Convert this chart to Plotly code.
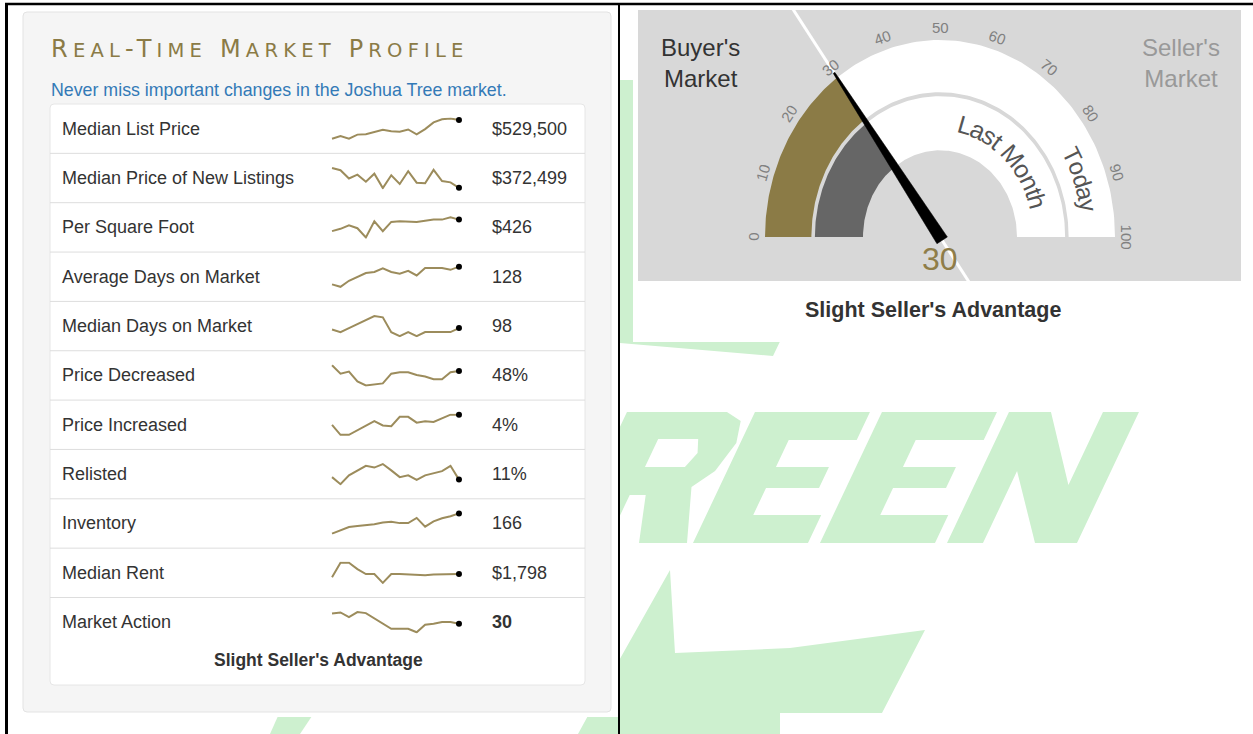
import numpy as np
import plotly.graph_objects as go

W, H = 1253, 734

# ---------------- data ----------------
metric_labels = ["Median List Price", "Median Price of New Listings", "Per Square Foot",
                 "Average Days on Market", "Median Days on Market", "Price Decreased",
                 "Price Increased", "Relisted", "Inventory", "Median Rent", "Market Action"]
metric_values = ["$529,500", "$372,499", "$426", "128", "98", "48%", "4%", "11%",
                 "166", "$1,798", "30"]

median_list_price = [418000, 434000, 418000, 442500, 444500, 460000, 471000, 462500,
                     460000, 473000, 444500, 475000, 515000, 533500, 537500, 529500]
median_new_listings = [465500, 455000, 416000, 434000, 401000, 438500, 371000, 431000,
                       390500, 450500, 396500, 393500, 456500, 404000, 398000, 372499]
per_sqft = [386, 394, 406, 396, 364, 420, 386, 418, 420, 420, 418, 422, 426, 426, 434, 426]
avg_days = [78, 71, 88, 100, 110, 113, 123, 113, 108, 116, 103, 124, 124, 124, 119, 128]
median_days = [94, 86, 98, 110, 122, 134, 130, 86, 74, 86, 74, 86, 86, 86, 86, 98]
price_decreased = [52, 46, 47.5, 40.5, 37.5, 38, 39, 46, 47, 47, 45, 44, 42, 42, 47, 48]
price_increased = [2.6, 1.2, 1.2, 1.8, 2.5, 3.1, 2.5, 2.4, 3.7, 3.7, 2.9, 3.1, 3.0, 3.5, 4.0, 4.0]
relisted = [11.7, 9.7, 12.2, 13.6, 14.9, 14.4, 15.4, 13.6, 11.7, 12.2, 10.9, 12.2, 12.7, 13.4, 14.9, 11.0]
inventory = [108, 118, 127, 130, 132, 135, 140, 142, 138, 138, 153, 128, 143, 152, 158, 166]
median_rent = [1753, 1958, 1958, 1868, 1798, 1798, 1673, 1798, 1798, 1793, 1783, 1783,
               1793, 1793, 1793, 1798]
market_action = [36, 36.6, 33.8, 36.8, 36.2, 33, 30, 27, 27, 27, 25, 29.4, 30, 31, 31, 30]

sparks = [median_list_price, median_new_listings, per_sqft, avg_days, median_days,
          price_decreased, price_increased, relisted, inventory, median_rent, market_action]
periods = list(range(16))

gauge_today = 30
gauge_last_month = 30
gauge_ticks = [0, 10, 20, 30, 40, 50, 60, 70, 80, 90, 100]
market_status = "Slight Seller's Advantage"
title_text = "Real-Time Market Profile"

# ---------------- style / geometry ----------------
GOLD = "#8b7b46"
SPARK = "#9c8c5c"
FONT = "Liberation Sans, Arial, sans-serif"

def X(x):
    return x / W

def Y(y):
    return 1 - y / H

def poly_path(pts):
    return "M" + " L".join(f"{X(x):.5f},{Y(y):.5f}" for x, y in pts) + " Z"

def rrect_path(x0, y0, x1, y1, r):
    return (f"M{X(x0+r)},{Y(y0)} L{X(x1-r)},{Y(y0)} Q{X(x1)},{Y(y0)} {X(x1)},{Y(y0+r)} "
            f"L{X(x1)},{Y(y1-r)} Q{X(x1)},{Y(y1)} {X(x1-r)},{Y(y1)} L{X(x0+r)},{Y(y1)} "
            f"Q{X(x0)},{Y(y1)} {X(x0)},{Y(y1-r)} L{X(x0)},{Y(y0+r)} Q{X(x0)},{Y(y0)} {X(x0+r)},{Y(y0)} Z")

shapes = []
annotations = []

# ---- watermark (decorative light green logo) ----
WM = "#cdf0cf"
K = 0.473      # slant
YB = 543       # letters baseline
def letter(outline, x0, holes=()):
    tr = lambda pts: [(x0 + u + v * K, YB - v) for u, v in pts]
    p = poly_path(tr(outline))
    for h in holes:
        p += " " + poly_path(tr(h))
    return p

E_out = [(0, 0), (115, 0), (115, 28), (47, 28), (47, 55), (100, 55), (100, 76), (47, 76),
         (47, 103), (115, 103), (115, 131), (0, 131)]
N_out = [(0, 0), (36, 0), (36, 72), (88, 0), (130, 0), (130, 131), (94, 131), (94, 58),
         (42, 131), (0, 131)]
R_out = [(0, 0), (42, 0), (42, 48), (58, 48), (74, 0), (122, 0), (100, 56), (116, 72),
         (124, 100), (118, 122), (100, 131), (0, 131)]
R_hole = [(44, 76), (84, 76), (90, 90), (84, 104), (44, 104)]
wm_paths = [
    letter(R_out, 565, [R_hole]),
    letter(E_out, 693),
    letter(E_out, 820),
    letter(N_out, 947),
    poly_path([(560, 80), (640, 80), (800, 300), (773, 356), (620, 343), (560, 343)]),
    poly_path([(670, 570), (675, 653), (790, 648), (925, 630), (882, 713), (780, 713),
               (780, 734), (578, 734), (590, 712)]),
    poly_path([(278, 716), (312, 716), (300, 734), (270, 734)]),
]
for p in wm_paths:
    shapes.append(dict(type="path", xref="paper", yref="paper", path=p,
                       fillcolor=WM, line=dict(width=0), layer="below"))

# white page columns
shapes.append(dict(type="rect", xref="paper", yref="paper", x0=X(8), x1=X(618), y0=Y(717), y1=Y(4),
                   fillcolor="white", line=dict(width=0), layer="below"))
shapes.append(dict(type="rect", xref="paper", yref="paper", x0=X(633), x1=X(1253), y0=Y(342), y1=Y(4),
                   fillcolor="white", line=dict(width=0), layer="below"))

# left well panel & table
shapes.append(dict(type="path", xref="paper", yref="paper", path=rrect_path(23, 12, 611, 712, 4),
                   fillcolor="#f5f5f5", line=dict(color="#e3e3e3", width=1), layer="below"))
shapes.append(dict(type="path", xref="paper", yref="paper", path=rrect_path(50, 104, 585, 685, 4),
                   fillcolor="white", line=dict(color="#e6e6e6", width=1), layer="below"))
ROW0, ROWH = 104, 49.35
for k in range(1, len(metric_labels)):
    yy = ROW0 + ROWH * k
    shapes.append(dict(type="line", xref="paper", yref="paper", x0=X(50), x1=X(585), y0=Y(yy), y1=Y(yy),
                       line=dict(color="#dddddd", width=1), layer="below"))

# gauge box
GB = (638, 10, 1241, 281)
shapes.append(dict(type="rect", xref="paper", yref="paper", x0=X(GB[0]), x1=X(GB[2]), y0=Y(GB[3]), y1=Y(GB[1]),
                   fillcolor="#d8d8d8", line=dict(width=0), layer="below"))

# black frame lines
for (x0, y0, x1, y1, w) in [(5, 4, 1253, 4, 2.5), (6.5, 3, 6.5, 734, 3), (619, 3, 619, 734, 2)]:
    shapes.append(dict(type="line", xref="paper", yref="paper", x0=X(x0), x1=X(x1), y0=Y(y0), y1=Y(y1),
                       line=dict(color="black", width=w), layer="below"))

fig = go.Figure()
layout_axes = {}

# ---- sparklines ----
SX0, SX1 = 330, 461
for i, vals in enumerate(sparks):
    sfx = "" if i == 0 else str(i + 1)
    c = ROW0 + ROWH * (i + 0.5)
    vmin, vmax = min(vals), max(vals)
    pad = (vmax - vmin) * 0.06
    fig.add_trace(go.Scatter(x=periods, y=vals, mode="lines", line=dict(color=SPARK, width=2),
                             xaxis="x" + sfx, yaxis="y" + sfx, hoverinfo="skip", showlegend=False))
    fig.add_trace(go.Scatter(x=[periods[-1]], y=[vals[-1]], mode="markers",
                             marker=dict(color="black", size=6), cliponaxis=False,
                             xaxis="x" + sfx, yaxis="y" + sfx, hoverinfo="skip", showlegend=False))
    layout_axes["xaxis" + sfx] = dict(domain=[X(SX0), X(SX1)], range=[-0.24, 15.24], visible=False,
                                      fixedrange=True, anchor="y" + sfx)
    layout_axes["yaxis" + sfx] = dict(domain=[Y(c + 11.3), Y(c - 11.3)], range=[vmin - pad, vmax + pad],
                                      visible=False, fixedrange=True, anchor="x" + sfx)
    annotations.append(dict(xref="paper", yref="paper", x=X(60), y=Y(c), xanchor="left", yanchor="middle",
                            text=metric_labels[i], showarrow=False,
                            font=dict(family=FONT, size=18, color="#333333")))
    val_txt = f"<b>{metric_values[i]}</b>" if metric_labels[i] == "Market Action" else metric_values[i]
    annotations.append(dict(xref="paper", yref="paper", x=X(490), y=Y(c), xanchor="left", yanchor="middle",
                            text=val_txt, showarrow=False,
                            font=dict(family=FONT, size=18, color="#333333")))

annotations.append(dict(xref="paper", yref="paper", x=X(318), y=Y(660), xanchor="center", yanchor="middle",
                        text=f"<b>{market_status}</b>", showarrow=False,
                        font=dict(family=FONT, size=17.5, color="#333333")))

# small-caps title: capital letters full size, the rest as smaller capitals
parts = []
for ch in title_text:
    if ch.isupper() or not ch.isalpha():
        parts.append(ch)
    else:
        parts.append(f"<span style='font-size:19.5px'>{ch.upper()}</span>")
title_html = "".join(parts)
annotations.append(dict(xref="paper", yref="paper", x=X(49), y=Y(49), xanchor="left", yanchor="middle",
                        text=f"<span style='letter-spacing:5.2px'>{title_html}</span>",
                        showarrow=False,
                        font=dict(family="DejaVu Sans", size=24, color=GOLD)))
annotations.append(dict(xref="paper", yref="paper", x=X(49), y=Y(90), xanchor="left", yanchor="middle",
                        text="Never miss important changes in the Joshua Tree market.", showarrow=False,
                        font=dict(family=FONT, size=17.8, color="#337ab7")))

# ---- gauge ----
GX, GY, RX, RY = 940, 237, 175, 197
gx, gy = "x12", "y12"
layout_axes["xaxis12"] = dict(domain=[X(GB[0]), X(GB[2])], range=[(GB[0] - GX) / RX, (GB[2] - GX) / RX],
                              visible=False, fixedrange=True, anchor="y12")
layout_axes["yaxis12"] = dict(domain=[Y(GB[3]), Y(GB[1])], range=[(GY - GB[3]) / RY, (GY - GB[1]) / RY],
                              visible=False, fixedrange=True, anchor="x12")

def ang(v):
    return np.pi * (1 - v / 100.0)

def band(v0, v1, r0, r1, n=90):
    a = ang(np.linspace(v0, v1, n))
    xs = np.concatenate([r1 * np.cos(a), r0 * np.cos(a[::-1]), [r1 * np.cos(a[0])]])
    ys = np.concatenate([r1 * np.sin(a), r0 * np.sin(a[::-1]), [r1 * np.sin(a[0])]])
    return xs, ys

phi = ang(gauge_today)
d = np.array([RX * np.cos(phi), RY * np.sin(phi)])
d = d / np.hypot(*d)
pv = np.array([-d[1], d[0]])

# white guide line along needle
lp = np.array([d * -90, d * 320])
fig.add_trace(go.Scatter(x=lp[:, 0] / RX, y=lp[:, 1] / RY, mode="lines", line=dict(color="white", width=3),
                         xaxis=gx, yaxis=gy, hoverinfo="skip", showlegend=False))

R_OUT = (0.735, 1.0)
R_IN = (0.44, 0.715)
for (v0, v1, rr, col) in [(0, gauge_today, R_OUT, GOLD), (gauge_today, 100, R_OUT, "white"),
                          (0, gauge_last_month, R_IN, "#666666"), (gauge_last_month, 100, R_IN, "white")]:
    bx, by = band(v0, v1, rr[0], rr[1])
    fig.add_trace(go.Scatter(x=bx, y=by, mode="lines", fill="toself", fillcolor=col,
                             line=dict(width=0, color=col), xaxis=gx, yaxis=gy,
                             hoverinfo="skip", showlegend=False))

tip_len = np.hypot(RX * 1.03 * np.cos(phi), RY * 1.03 * np.sin(phi))
tip = d * tip_len
base = d * -4
needle = np.array([tip + pv * 1.0, base + pv * 6.2, base - pv * 6.2, tip - pv * 1.0, tip + pv * 1.0])
fig.add_trace(go.Scatter(x=needle[:, 0] / RX, y=needle[:, 1] / RY, mode="lines", fill="toself",
                         fillcolor="black", line=dict(width=0.5, color="black"), xaxis=gx, yaxis=gy,
                         hoverinfo="skip", showlegend=False))

def tangent_deg(a):
    return float(np.degrees(np.arctan2(RY * np.cos(a), RX * np.sin(a))))

for t in gauge_ticks:
    a = ang(t)
    annotations.append(dict(xref=gx, yref=gy, x=1.065 * np.cos(a), y=1.065 * np.sin(a), text=str(t),
                            showarrow=False, textangle=tangent_deg(a), xanchor="center", yanchor="middle",
                            font=dict(family=FONT, size=15, color="#808080")))

CHAR_W = {"L": .556, "a": .556, "s": .5, "t": .278, " ": .278, "M": .833, "o": .556, "n": .556,
          "h": .556, "T": .611, "d": .556, "y": .5}

def curved(text, phi_c_deg, r, size, color):
    phis = np.radians(np.linspace(phi_c_deg + 85, phi_c_deg - 85, 3001))
    px = RX * r * np.cos(phis)
    py = RY * r * np.sin(phis)
    s = np.concatenate([[0], np.cumsum(np.hypot(np.diff(px), np.diff(py)))])
    s_c = np.interp(np.radians(phi_c_deg), phis[::-1], s[::-1])
    widths = [CHAR_W[ch] * size for ch in text]
    acc = -sum(widths) / 2
    for ch, w in zip(text, widths):
        sc = s_c + acc + w / 2
        acc += w
        if ch == " ":
            continue
        a = float(np.interp(sc, s, phis))
        annotations.append(dict(xref=gx, yref=gy, x=r * np.cos(a), y=r * np.sin(a), text=ch,
                                showarrow=False, textangle=tangent_deg(a), xanchor="center",
                                yanchor="middle", font=dict(family=FONT, size=size, color=color)))

curved("Last Month", 46, 0.585, 25, "#555555")
curved("Today", 20, 0.862, 24, "#555555")

annotations.append(dict(xref="paper", yref="paper", x=X(940), y=Y(259), text=str(gauge_today), showarrow=False,
                        xanchor="center", yanchor="middle", font=dict(family=FONT, size=32, color="#8f7d48")))
for txt, xc, col in [("Buyer's<br>Market", 700, "#333333"), ("Seller's<br>Market", 1181, "#999999")]:
    annotations.append(dict(xref="paper", yref="paper", x=X(xc), y=Y(63), text=txt, showarrow=False,
                            xanchor="center", yanchor="middle", align="center",
                            font=dict(family=FONT, size=24, color=col)))
annotations.append(dict(xref="paper", yref="paper", x=X(933), y=Y(310), text=f"<b>{market_status}</b>",
                        showarrow=False, xanchor="center", yanchor="middle",
                        font=dict(family=FONT, size=21.5, color="#333333")))

fig.update_layout(width=W, height=H, margin=dict(l=0, r=0, t=0, b=0), paper_bgcolor="white",
                  plot_bgcolor="rgba(0,0,0,0)", showlegend=False, shapes=shapes, annotations=annotations,
                  **layout_axes)
fig.write_html("out.html", config={"displayModeBar": False},
               post_script="document.body.style.margin='0px';document.body.style.padding='0px';"
                           "document.body.style.overflow='hidden';")
